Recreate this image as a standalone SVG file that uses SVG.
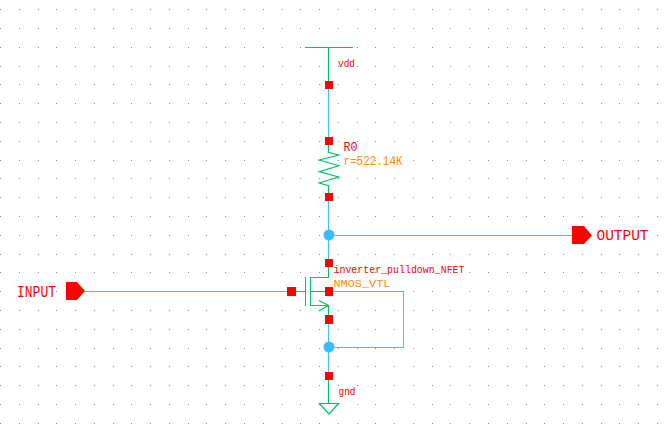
<svg xmlns="http://www.w3.org/2000/svg" width="666" height="441" viewBox="0 0 666 441">
<style>
.bg{fill:#fff}
.grid line{stroke:#8a8aa8;stroke-width:1;stroke-dasharray:1 17.77;shape-rendering:crispEdges}
.w{fill:none;stroke:#3dbcff;stroke-width:1;shape-rendering:crispEdges}
.g{fill:none;stroke:#00c266;stroke-width:1.200}
.gc{fill:none;stroke:#00c266;stroke-width:1;shape-rendering:crispEdges}
.pin{fill:#f00;shape-rendering:crispEdges}
.dot{fill:#3dbcff}
.t{font-family:"Liberation Mono","DejaVu Sans Mono",monospace}
.r{fill:#f00}
.o{fill:#ff8a00}
</style>
<rect class="bg" width="666" height="441"/>
<g class="grid">
<line x1="0" x2="666" y1="9.5" y2="9.5"/><line x1="0" x2="666" y1="28.5" y2="28.5"/><line x1="0" x2="666" y1="47.5" y2="47.5"/><line x1="0" x2="666" y1="66.5" y2="66.5"/><line x1="0" x2="666" y1="84.5" y2="84.5"/><line x1="0" x2="666" y1="103.5" y2="103.5"/><line x1="0" x2="666" y1="122.5" y2="122.5"/><line x1="0" x2="666" y1="141.5" y2="141.5"/><line x1="0" x2="666" y1="160.5" y2="160.5"/><line x1="0" x2="666" y1="178.5" y2="178.5"/><line x1="0" x2="666" y1="197.5" y2="197.5"/><line x1="0" x2="666" y1="216.5" y2="216.5"/><line x1="0" x2="666" y1="235.5" y2="235.5"/><line x1="0" x2="666" y1="254.5" y2="254.5"/><line x1="0" x2="666" y1="272.5" y2="272.5"/><line x1="0" x2="666" y1="291.5" y2="291.5"/><line x1="0" x2="666" y1="310.5" y2="310.5"/><line x1="0" x2="666" y1="329.5" y2="329.5"/><line x1="0" x2="666" y1="348.5" y2="348.5"/><line x1="0" x2="666" y1="366.5" y2="366.5"/><line x1="0" x2="666" y1="385.5" y2="385.5"/><line x1="0" x2="666" y1="404.5" y2="404.5"/><line x1="0" x2="666" y1="423.5" y2="423.5"/>
</g>
<g id="connectors">
<path class="w" d="M328.500 89V137"/>
<path class="w" d="M328.500 201V259"/>
<path class="w" d="M329 235.500H572"/>
<path class="w" d="M85 291.500H287"/>
<path class="w" d="M328.500 323V372"/>
<path class="w" d="M333 291.500H403.500V347.500H329"/>
</g>
<g id="vdd">
<path class="gc" d="M305 47.500H353M328.500 47V81"/>
<rect class="pin" x="325" y="81" width="8" height="8"/>
<text class="t r" x="338" y="66.500" font-size="11" textLength="17" lengthAdjust="spacingAndGlyphs">vdd</text>
</g>
<g id="R0">
<rect class="pin" x="325" y="137" width="8" height="8"/>
<path class="g" d="M328.500 145V152.300L338.700 155L319.300 160L338.700 165.700L319.300 171.700L338.700 177L319.300 183L328.500 185.700V193"/>
<rect class="pin" x="325" y="193" width="8" height="8"/>
<text class="t r" x="343.500" y="151" font-size="12" textLength="14" lengthAdjust="spacingAndGlyphs">R0</text>
<text class="t o" x="343.500" y="165" font-size="12" textLength="59" lengthAdjust="spacingAndGlyphs">r=522.14K</text>
</g>
<g id="inverter_pulldown_NFET">
<rect class="pin" x="325" y="259" width="8" height="8"/>
<rect class="pin" x="287" y="287" width="9" height="9"/>
<rect class="pin" x="325" y="287" width="8" height="9"/>
<rect class="pin" x="325" y="315" width="8" height="9"/>
<path class="gc" d="M328.500 267V277.500H310.500V305.500H328.500V315M305.500 277V306M296 291.500H305M310 291.500H325"/>
<path class="g" d="M319 300.500L328.500 305.500L319 311"/>
<text class="t r" x="333.500" y="273" font-size="11.500" textLength="131" lengthAdjust="spacingAndGlyphs">inverter_pulldown_NFET</text>
<text class="t o" x="333.500" y="287" font-size="11" textLength="57" lengthAdjust="spacingAndGlyphs">NMOS_VTL</text>
</g>
<g id="gnd">
<rect class="pin" x="325" y="372" width="8" height="8"/>
<path class="gc" d="M328.500 380V403"/>
<path class="g" d="M319.500 403.500H338.500L329 414Z"/>
<text class="t r" x="338.500" y="395" font-size="11" textLength="17" lengthAdjust="spacingAndGlyphs">gnd</text>
</g>
<g id="net_output"><circle class="dot" cx="329" cy="235" r="5.500"/></g>
<g id="net_source"><circle class="dot" cx="329" cy="347" r="5.500"/></g>
<g id="INPUT">
<path class="pin" style="shape-rendering:auto" d="M66 282H77L85 291L77 300H66Z"/>
<text class="t r" x="17" y="297" font-size="16" textLength="39" lengthAdjust="spacingAndGlyphs">INPUT</text>
</g>
<g id="OUTPUT">
<path class="pin" style="shape-rendering:auto" d="M572 226H584L592 235.500L584 244H572Z"/>
<text class="t r" x="596.500" y="240" font-size="15" textLength="52" lengthAdjust="spacingAndGlyphs">OUTPUT</text>
</g>
</svg>
